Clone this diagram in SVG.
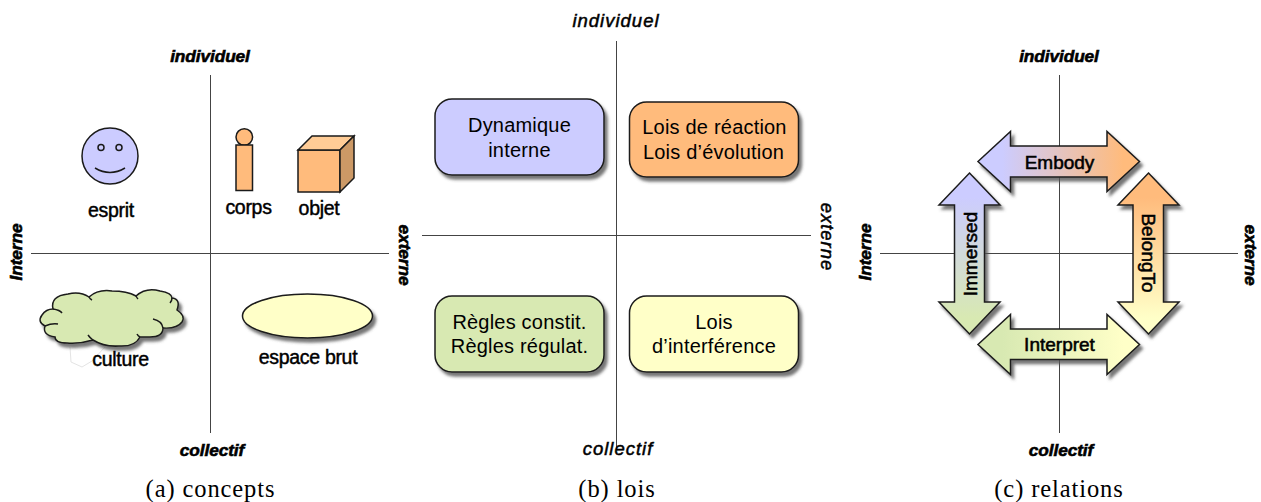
<svg xmlns="http://www.w3.org/2000/svg" width="1261" height="502" viewBox="0 0 1261 502">
<style>
text{font-family:"Liberation Sans",Arial,sans-serif;fill:#000;text-anchor:middle}
.axis{stroke:#444;stroke-width:1;fill:none}
.ax{font-size:17.3px;font-weight:bold;font-style:italic;stroke:#000;stroke-width:.6;letter-spacing:-.1px}
.axb{font-size:18.5px;font-style:italic;stroke:#000;stroke-width:.5;letter-spacing:1px}
.lab{font-size:19.5px;stroke:#000;stroke-width:.45;letter-spacing:-.3px}
.box{font-size:20px;letter-spacing:.2px}
.arr{font-size:19px;stroke:#000;stroke-width:.55}
.cap{font-family:"Liberation Serif","Times New Roman",serif;font-size:24.5px;letter-spacing:.9px}
.s{stroke:#1a1a1a;stroke-width:1.5;stroke-linejoin:miter}
.r{filter:url(#sh)}
</style>
<defs>
<filter id="sh" x="-10%" y="-10%" width="125%" height="130%"><feDropShadow dx="3" dy="4" stdDeviation="1.5" flood-color="#555" flood-opacity=".8"/></filter>
<linearGradient id="gE" x1="0" x2="1" y1="0" y2="0"><stop offset=".15" stop-color="#ccccff"/><stop offset=".9" stop-color="#ffbb7c"/></linearGradient>
<linearGradient id="gI" x1="0" x2="1" y1="0" y2="0"><stop offset=".15" stop-color="#d8e9b2"/><stop offset=".9" stop-color="#ffffc8"/></linearGradient>
<linearGradient id="gM" x1="0" x2="0" y1="0" y2="1"><stop offset=".15" stop-color="#ccccff"/><stop offset=".9" stop-color="#d8e9b2"/></linearGradient>
<linearGradient id="gB" x1="0" x2="0" y1="0" y2="1"><stop offset=".15" stop-color="#ffbb7c"/><stop offset=".9" stop-color="#ffffc8"/></linearGradient>
</defs>
<g id="connectors">
<path class="axis" d="M210.500 75V433M31 253.500H389"/>
<path class="axis" d="M616.500 41V450M422 235.500H811"/>
<path class="axis" d="M1059.500 75V433M880 253.500H1238"/>
</g>
<g id="panel-a-labels">
<text class="ax" x="210" y="62">individuel</text>
<text class="ax" x="212" y="456">collectif</text>
<text class="ax" transform="translate(22 252) rotate(-90)">Interne</text>
<text class="ax" transform="translate(399 255) rotate(90)">externe</text>
<text class="cap" x="210.500" y="496.500">(a) concepts</text>
</g>
<g id="esprit">
<circle class="s" cx="110" cy="156" r="28" fill="#ccccff"/>
<circle class="s" cx="101" cy="147.500" r="3" fill="#ccccff" stroke-width="1.200"/>
<circle class="s" cx="119" cy="147.500" r="3" fill="#ccccff" stroke-width="1.200"/>
<path class="s" d="M95 168Q110 177 125 168" fill="none"/>
<text class="lab" x="111" y="216.500">esprit</text>
</g>
<g id="corps">
<circle class="s" cx="244.300" cy="137" r="8.300" fill="#ffbb7c"/>
<rect class="s" x="236" y="145" width="16.500" height="45.500" fill="#ffbb7c"/>
<text class="lab" x="248.500" y="214">corps</text>
</g>
<g id="objet">
<rect class="s" x="298" y="150" width="42" height="42" fill="#ffbb7c"/>
<path class="s" d="M298 150L312 136H354L340 150Z" fill="#ffcc96"/>
<path class="s" d="M340 150L354 136V178L340 192Z" fill="#cc9966"/>
<text class="lab" x="319" y="215">objet</text>
</g>
<g id="culture">
<path d="M70 347L71 362L82 367L92 361L105 347" fill="#fff" stroke="#e4e4e4" stroke-width="1"/>
<path class="s r" fill="#d8e9b2" d="M53 309Q50 296 68 294Q80 291 89 297Q98 289 112 291Q127 291 136 296Q146 287 160 291Q172 293 172 298Q181 299 177 310Q186 316 182 322Q177 329 163 328Q163 337 150 337Q144 337 140 337Q135 347 119 346Q104 347 93 340Q80 344 67 343Q55 343 55 337Q42 335 45 326Q37 322 42 315Q46 309 53 309Z"/>
<path class="s" fill="none" stroke-width="1.200" d="M153 319Q162 321 163 328M53 309Q60 310 62 313M45 326Q52 323 58 324M89 297Q90 299 92 300M136 296Q137 298 138 299M172 298Q172 301 170 303M93 340Q90 338 88 335M140 337Q138 336 137 334"/>
<text class="lab" x="120.500" y="366">culture</text>
</g>
<g id="espace-brut">
<ellipse class="s r" cx="307.500" cy="316" rx="65" ry="22" fill="#ffffc8"/>
<text class="lab" x="308" y="364">espace brut</text>
</g>
<g id="panel-b-labels">
<text class="axb" x="616" y="27">individuel</text>
<text class="axb" x="618" y="455">collectif</text>
<text class="axb" transform="translate(821 237) rotate(90)">externe</text>
<text class="cap" x="617" y="496.500">(b) lois</text>
</g>
<g id="dynamique">
<rect class="s r" x="435" y="99" width="169" height="76" rx="17" fill="#ccccff"/>
<text class="box" x="519.500" y="132">Dynamique</text>
<text class="box" x="519.500" y="157">interne</text>
</g>
<g id="lois-reaction">
<rect class="s r" x="629.500" y="102" width="169" height="75" rx="17" fill="#ffbb7c"/>
<text class="box" x="714.500" y="134">Lois de réaction</text>
<text class="box" x="713.500" y="159">Lois d’évolution</text>
</g>
<g id="regles">
<rect class="s r" x="435" y="296" width="169" height="76" rx="17" fill="#d8e9b2"/>
<text class="box" x="519.500" y="329">Règles constit.</text>
<text class="box" x="519.500" y="353">Règles régulat.</text>
</g>
<g id="lois-interference">
<rect class="s r" x="629.500" y="296" width="169" height="76" rx="17" fill="#ffffc8"/>
<text class="box" x="714" y="329">Lois</text>
<text class="box" x="714" y="353">d’interférence</text>
</g>
<g id="panel-c-labels">
<text class="ax" x="1059" y="62">individuel</text>
<text class="ax" x="1061" y="456">collectif</text>
<text class="ax" transform="translate(871 252) rotate(-90)">Interne</text>
<text class="ax" transform="translate(1245 255) rotate(90)">externe</text>
<text class="cap" x="1059" y="496.500">(c) relations</text>
</g>
<g id="embody">
<path class="s r" fill="url(#gE)" d="M978 161.500L1010.500 131.500V146H1107V131.500L1139.500 161.500L1107 191.500V177H1010.500V191.500Z"/>
<text class="arr" x="1059.500" y="168.500">Embody</text>
</g>
<g id="interpret">
<path class="s r" fill="url(#gI)" d="M978 344.500L1010.500 314.500V329H1107V314.500L1139.500 344.500L1107 374.500V359.500H1010.500V374.500Z"/>
<text class="arr" x="1059.500" y="350.500">Interpret</text>
</g>
<g id="immersed">
<path class="s r" fill="url(#gM)" d="M969.500 173L1000 205H984.500V302H1000L969.500 334L939 302H954.500V205H939Z"/>
<text class="arr" transform="translate(976.500 254) rotate(-90)">Immersed</text>
</g>
<g id="belongto">
<path class="s r" fill="url(#gB)" d="M1148.500 173L1179 205H1163.500V302H1179L1148.500 334L1118 302H1133V205H1118Z"/>
<text class="arr" transform="translate(1142 253) rotate(90)">BelongTo</text>
</g>
</svg>
